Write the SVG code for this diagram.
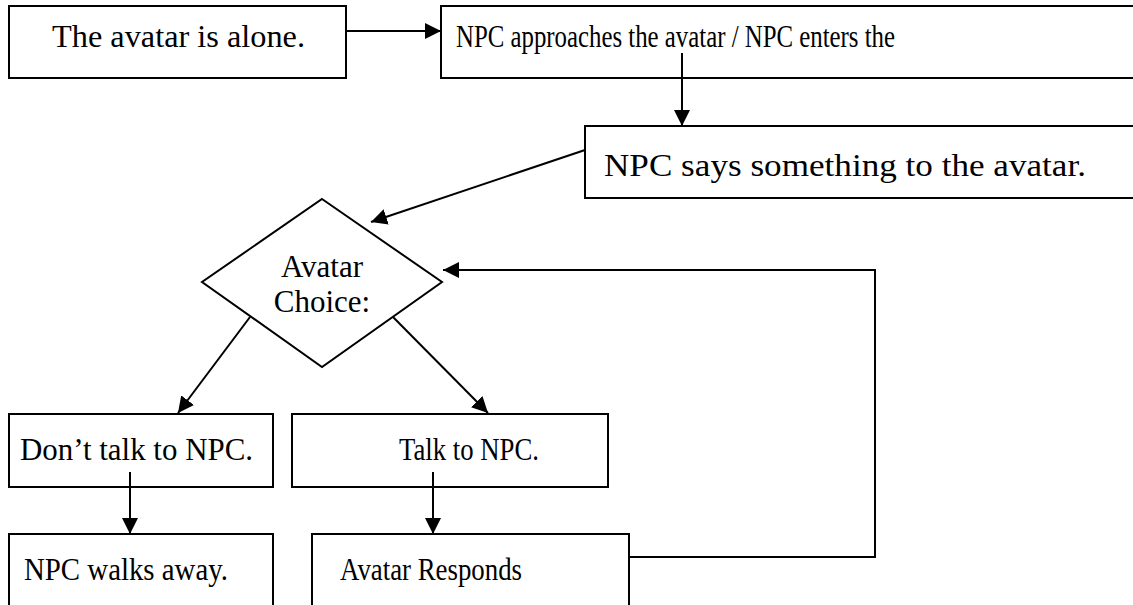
<svg xmlns="http://www.w3.org/2000/svg" width="1133" height="605" viewBox="0 0 1133 605">
<defs>
<marker id="ah" viewBox="0 0 10 10" refX="10" refY="5" markerWidth="16" markerHeight="16" markerUnits="userSpaceOnUse" orient="auto">
<path d="M0,0 L10,5 L0,10 z" fill="#000"/>
</marker>
<style>
.box{fill:#fff;stroke:#000;stroke-width:2}
.t{font-family:"Liberation Serif","Times New Roman",serif;font-size:31px;fill:#000}
.c{text-anchor:middle}
.ln{fill:none;stroke:#000;stroke-width:2}
</style>
</defs>
<rect width="1133" height="605" fill="#fff"/>
<g id="n1"><rect class="box" x="9" y="6" width="337" height="72"/><text class="t" x="52" y="47" textLength="253" lengthAdjust="spacingAndGlyphs">The avatar is alone.</text></g>
<g id="n2"><rect class="box" x="441" y="6" width="720" height="72"/><text class="t" x="456" y="47" textLength="439" lengthAdjust="spacingAndGlyphs">NPC approaches the avatar / NPC enters the</text></g>
<g id="n3"><rect class="box" x="585" y="126" width="580" height="72"/><text class="t" x="604" y="176" textLength="482" lengthAdjust="spacingAndGlyphs">NPC says something to the avatar.</text></g>
<g id="n4"><polygon class="box" points="322,199 442,282 322,367 202,282"/><text class="t c" x="322" y="277">Avatar</text><text class="t c" x="322" y="312">Choice:</text></g>
<g id="n5"><rect class="box" x="9" y="414" width="264" height="73"/><text class="t" x="20" y="460" textLength="233" lengthAdjust="spacingAndGlyphs">Don’t talk to NPC.</text></g>
<g id="n6"><rect class="box" x="292" y="414" width="316" height="73"/><text class="t" x="399" y="460" textLength="140" lengthAdjust="spacingAndGlyphs">Talk to NPC.</text></g>
<g id="n7"><rect class="box" x="9" y="534" width="264" height="80"/><text class="t" x="24" y="580" textLength="204" lengthAdjust="spacingAndGlyphs">NPC walks away.</text></g>
<g id="n8"><rect class="box" x="312" y="534" width="317" height="80"/><text class="t" x="340" y="580" textLength="182" lengthAdjust="spacingAndGlyphs">Avatar Responds</text></g>
<g id="edges">
<line class="ln" x1="346" y1="31" x2="441" y2="31" marker-end="url(#ah)"/>
<line class="ln" x1="682" y1="53" x2="682" y2="126" marker-end="url(#ah)"/>
<line class="ln" x1="585" y1="150" x2="371" y2="222" marker-end="url(#ah)"/>
<line class="ln" x1="250" y1="317" x2="178" y2="413" marker-end="url(#ah)"/>
<line class="ln" x1="393" y1="317" x2="488" y2="413" marker-end="url(#ah)"/>
<line class="ln" x1="130" y1="472" x2="130" y2="534" marker-end="url(#ah)"/>
<line class="ln" x1="433" y1="472" x2="433" y2="534" marker-end="url(#ah)"/>
<polyline class="ln" points="629,557 875,557 875,270 443,270" marker-end="url(#ah)"/>
</g>
</svg>
